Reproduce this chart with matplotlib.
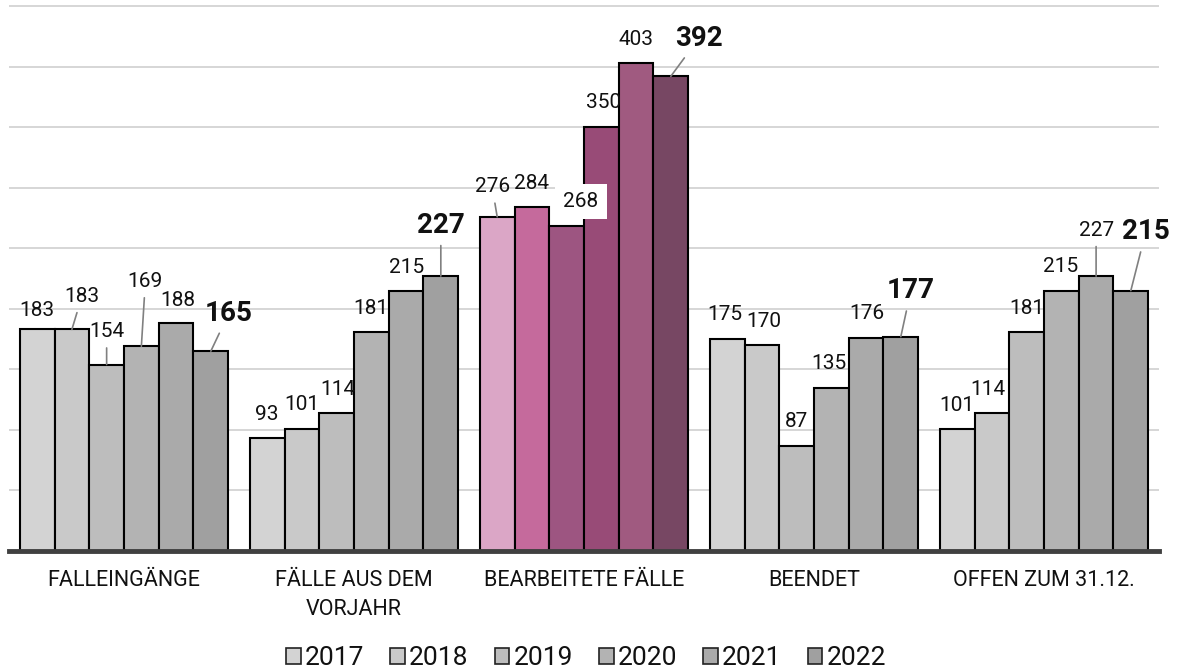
import matplotlib
matplotlib.use("Agg")
import matplotlib.pyplot as plt
from matplotlib.patches import Patch
import numpy as np

plt.rcParams['font.family'] = ['Roboto', 'DejaVu Sans']

categories = ['FALLEINGÄNGE', 'FÄLLE AUS DEM\nVORJAHR', 'BEARBEITETE FÄLLE', 'BEENDET', 'OFFEN ZUM 31.12.']
years = ['2017', '2018', '2019', '2020', '2021', '2022']

# werte pro jahr (je kategorie)
values_2017 = [183, 93, 276, 175, 101]
values_2018 = [183, 101, 284, 170, 114]
values_2019 = [154, 114, 268, 87, 181]
values_2020 = [169, 181, 350, 135, 215]
values_2021 = [188, 215, 403, 176, 227]
values_2022 = [165, 227, 392, 177, 215]
series = [values_2017, values_2018, values_2019, values_2020, values_2021, values_2022]

gray_colors = ['#d3d3d3', '#c9c9c9', '#bdbdbd', '#b3b3b3', '#aaaaaa', '#a0a0a0']
pink_colors = ['#dba6c6', '#c56a9c', '#9d5581', '#984b77', '#a05a80', '#774763']
highlight = 2

# label offsets in pixels (dx, dy) relative to bar top, leader line yes/no
label_offsets = [
    [(0, 19, False), (0, 24, False), (-5, 30, True), (-2, 25, False), (0, 23, False)],
    [(10, 33, True), (0, 24, False), (0, 24, False), (2, 24, False), (-4, 23, False)],
    [(0, 33, True), (1, 23, False), (14, 25, False), (0, 24, False), (0, 23, False)],
    [(4, 65, True), (0, 23, False), (2, 25, False), (-2, 24, False), (-1, 24, False)],
    [(2, 23, False), (1, 23, False), (0, 23, False), (1, 24, False), (0, 46, True)],
    [(18, 38, True), (0, 51, True), (28, 38, True), (10, 46, True), (15, 59, True)],
]

fig = plt.figure(figsize=(11.77, 6.69), dpi=100)
ax = fig.add_axes([9 / 1177, 118 / 669, 1150 / 1177, 551 / 669])

x = np.arange(len(categories))
width = 0.151
for i, vals in enumerate(series):
    pos = x + (i - 2.5) * width
    cols = [pink_colors[i] if c == highlight else gray_colors[i] for c in range(len(categories))]
    ax.bar(pos, vals, width, color=cols, edgecolor='black', linewidth=1.5, zorder=3)
    for c, v in enumerate(vals):
        dx, dy, leader = label_offsets[i][c]
        bold = i == len(series) - 1
        bbox = None
        if i == 2 and c == highlight:
            bbox = dict(facecolor='white', edgecolor='none', pad=6)
        arrow = None
        if leader:
            arrow = dict(arrowstyle='-', color='#808080', lw=1.2, shrinkA=3, shrinkB=0)
        ax.annotate(str(v), xy=(pos[c], v), xytext=(dx, dy), textcoords='offset pixels',
                    ha='center', va='center', fontsize=20 if bold else 15,
                    fontweight='bold' if bold else 'normal', color='#111111',
                    bbox=bbox, arrowprops=arrow, zorder=5)

ax.set_xlim(-0.5, 4.5)
ax.set_ylim(0, 455)
ax.set_yticks(np.arange(50, 451, 50))
ax.yaxis.grid(True, color='#d0d0d0', linewidth=1.2, zorder=0)
ax.tick_params(axis='y', left=False, labelleft=False)
ax.tick_params(axis='x', length=0, pad=14, labelsize=15.5, labelcolor='#111111')
ax.set_xticks(x)
ax.set_xticklabels(categories, linespacing=1.45)
for s in ['top', 'right', 'left']:
    ax.spines[s].set_visible(False)
ax.spines['bottom'].set_color('#404040')
ax.spines['bottom'].set_linewidth(3.5)
ax.spines['bottom'].set_zorder(4)

handles = [Patch(facecolor=gray_colors[i], edgecolor='#222222', linewidth=1.2, label=y)
           for i, y in enumerate(years)]
fig.legend(handles=handles, loc='center', bbox_to_anchor=(586 / 1177, 1 - 658 / 669),
           ncol=6, frameon=False, fontsize=19, handlelength=0.55, handleheight=0.55,
           handletextpad=0.15, columnspacing=1.0, labelcolor='#111111')

fig.savefig('out.png', dpi=100)
